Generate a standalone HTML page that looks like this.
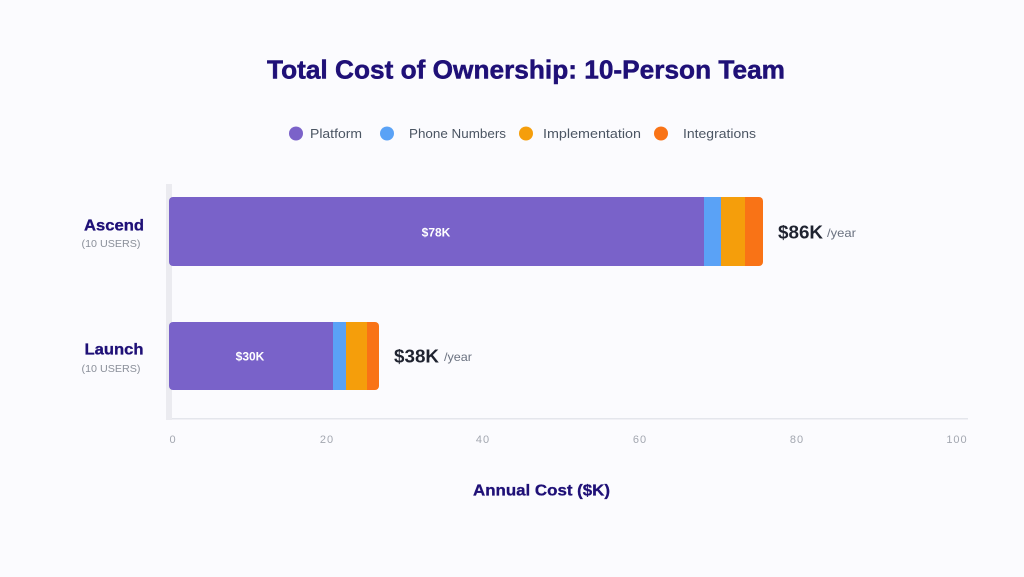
<!DOCTYPE html>
<html>
<head>
<meta charset="utf-8">
<style>
  html,body{margin:0;padding:0;background:#fbfbfe;}
  svg{display:block;}
  text{font-family:"Liberation Sans","DejaVu Sans",sans-serif;}
</style>
</head>
<body>
<svg width="1024" height="577" viewBox="0 0 1024 577" xmlns="http://www.w3.org/2000/svg">
  <rect x="0" y="0" width="1024" height="577" fill="#fbfbfe"/>

  <!-- Title -->
  <text x="267" y="78.5" font-size="26" font-weight="bold" fill="#1f1077" stroke="#1f1077" stroke-width="0.5" textLength="518" lengthAdjust="spacingAndGlyphs">Total Cost of Ownership: 10-Person Team</text>

  <!-- Legend -->
  <circle cx="296" cy="133.5" r="7" fill="#7b62c9"/>
  <text x="310" y="138" font-size="12.5" fill="#4b5563" textLength="52" lengthAdjust="spacingAndGlyphs">Platform</text>
  <circle cx="387" cy="133.5" r="7" fill="#5aa2f6"/>
  <text x="409" y="138" font-size="12.5" fill="#4b5563" textLength="97" lengthAdjust="spacingAndGlyphs">Phone Numbers</text>
  <circle cx="526" cy="133.5" r="7" fill="#f59e0b"/>
  <text x="543" y="138" font-size="12.5" fill="#4b5563" textLength="98" lengthAdjust="spacingAndGlyphs">Implementation</text>
  <circle cx="661" cy="133.5" r="7" fill="#f97316"/>
  <text x="683" y="138" font-size="12.5" fill="#4b5563" textLength="73" lengthAdjust="spacingAndGlyphs">Integrations</text>

  <!-- Axes -->
  <rect x="166" y="184" width="6" height="236" fill="#ebebf0"/>
  <rect x="172" y="418" width="796" height="1.5" fill="#e4e6ec"/>

  <defs>
    <clipPath id="c1"><rect x="169" y="197" width="594" height="69" rx="4" ry="4"/></clipPath>
    <clipPath id="c2"><rect x="169" y="322" width="210" height="68" rx="4" ry="4"/></clipPath>
  </defs>

  <!-- Ascend bar -->
  <g clip-path="url(#c1)">
    <rect x="169" y="197" width="535" height="69" fill="#7962c9"/>
    <rect x="704" y="197" width="17" height="69" fill="#5aa2f6"/>
    <rect x="721" y="197" width="24" height="69" fill="#f59e0b"/>
    <rect x="745" y="197" width="18" height="69" fill="#f97316"/>
  </g>
  <text x="436" y="236.5" font-size="12" font-weight="bold" fill="#ffffff" text-anchor="middle">$78K</text>
  <text x="778" y="238.5" font-size="18" font-weight="bold" fill="#1f2330" textLength="45" lengthAdjust="spacingAndGlyphs">$86K</text>
  <text x="827" y="237" font-size="12" fill="#6b7280" textLength="29" lengthAdjust="spacingAndGlyphs">/year</text>

  <!-- Launch bar -->
  <g clip-path="url(#c2)">
    <rect x="169" y="322" width="164" height="68" fill="#7962c9"/>
    <rect x="333" y="322" width="13" height="68" fill="#5aa2f6"/>
    <rect x="346" y="322" width="21" height="68" fill="#f59e0b"/>
    <rect x="367" y="322" width="12" height="68" fill="#f97316"/>
  </g>
  <text x="250" y="360.5" font-size="12" font-weight="bold" fill="#ffffff" text-anchor="middle">$30K</text>
  <text x="394" y="362.5" font-size="18" font-weight="bold" fill="#1f2330" textLength="45" lengthAdjust="spacingAndGlyphs">$38K</text>
  <text x="444" y="361" font-size="12" fill="#6b7280" textLength="28" lengthAdjust="spacingAndGlyphs">/year</text>

  <!-- Category labels -->
  <text x="114" y="230.5" font-size="15.5" font-weight="bold" fill="#1f1077" stroke="#1f1077" stroke-width="0.3" text-anchor="middle" textLength="60" lengthAdjust="spacingAndGlyphs">Ascend</text>
  <text x="111" y="247" font-size="10.5" fill="#8a8f99" text-anchor="middle" textLength="59" lengthAdjust="spacingAndGlyphs">(10 USERS)</text>
  <text x="114" y="354.5" font-size="15.5" font-weight="bold" fill="#1f1077" stroke="#1f1077" stroke-width="0.3" text-anchor="middle" textLength="59" lengthAdjust="spacingAndGlyphs">Launch</text>
  <text x="111" y="372" font-size="10.5" fill="#8a8f99" text-anchor="middle" textLength="59" lengthAdjust="spacingAndGlyphs">(10 USERS)</text>

  <!-- Tick labels -->
  <g font-size="11" fill="#a3a7b0" text-anchor="middle" letter-spacing="1">
    <text x="173" y="443">0</text>
    <text x="327" y="443">20</text>
    <text x="483" y="443">40</text>
    <text x="640" y="443">60</text>
    <text x="797" y="443">80</text>
    <text x="957" y="443">100</text>
  </g>

  <!-- Axis title -->
  <text x="473" y="495.5" font-size="15.5" font-weight="bold" fill="#1f1077" stroke="#1f1077" stroke-width="0.3" textLength="137" lengthAdjust="spacingAndGlyphs">Annual Cost ($K)</text>
</svg>
</body>
</html>
